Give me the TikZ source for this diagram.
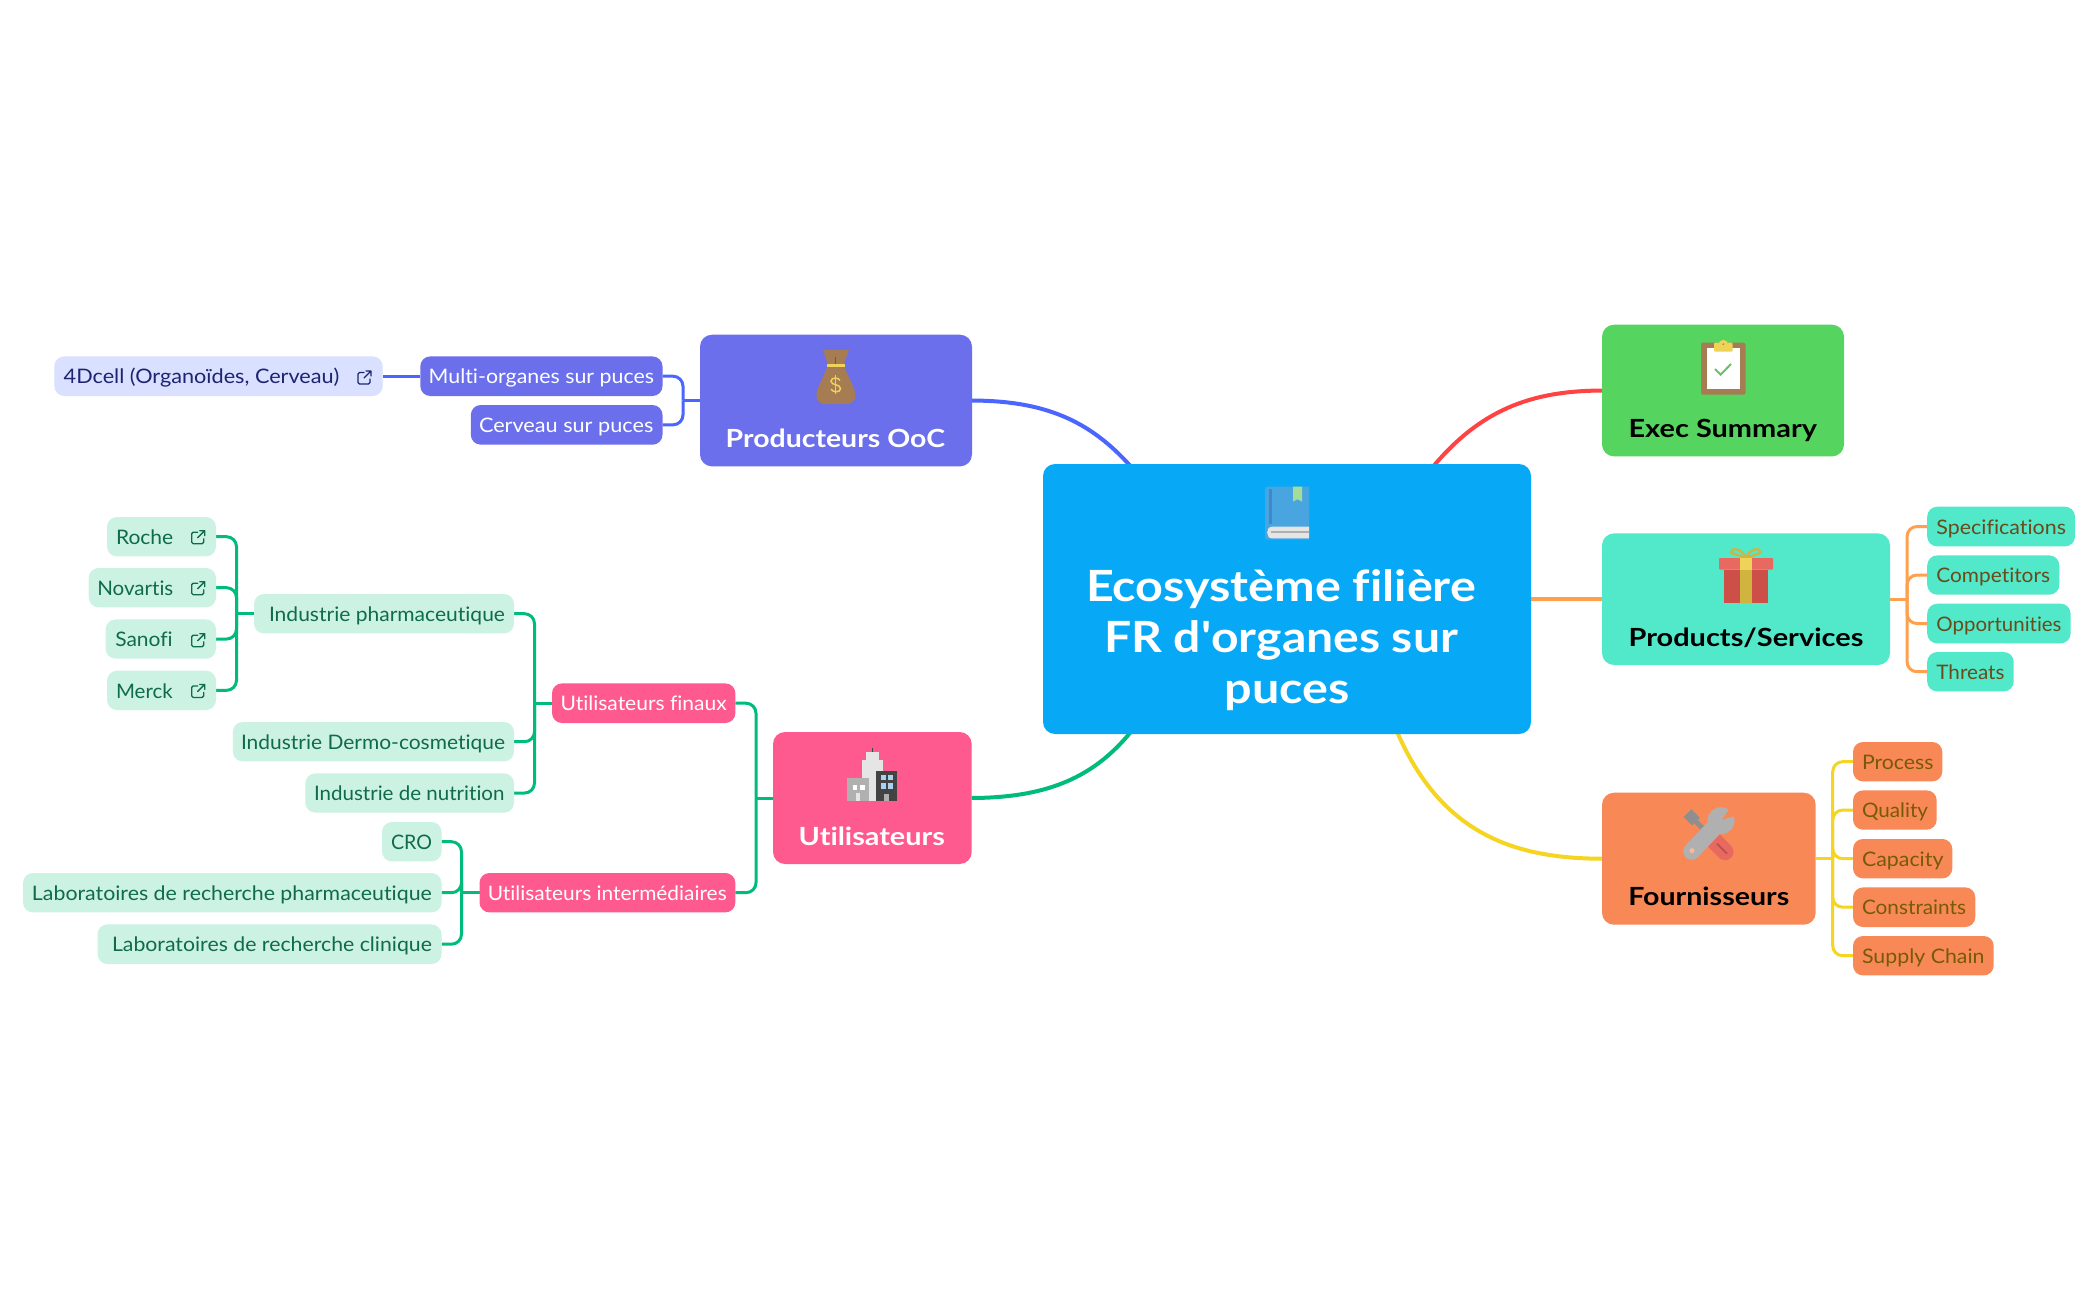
\documentclass[tikz,border=0pt]{standalone}
\usepackage{fontspec}
\usepackage{graphicx}
\setmainfont{Lato}[Ligatures={TeX,NoCommon}]
\newfontfamily\plainquote{Lato}
\usetikzlibrary{calc,backgrounds}
\definecolor{cCentral}{HTML}{07A9F6}
\definecolor{cExec}{HTML}{55D45F}
\definecolor{cProd}{HTML}{52E8CA}
\definecolor{cFour}{HTML}{F98857}
\definecolor{cOoc}{HTML}{6B6FEB}
\definecolor{cUtil}{HTML}{FF5A8F}
\definecolor{cPale}{HTML}{CCF2E4}
\definecolor{cPaleB}{HTML}{DAE0FF}
\definecolor{tGreen}{HTML}{0F6B4C}
\definecolor{tBrown}{HTML}{6B4A1A}
\definecolor{tOlive}{HTML}{755B05}
\definecolor{tNavy}{HTML}{1E2470}
\definecolor{lRed}{HTML}{FF4242}
\definecolor{lBlue}{HTML}{4A66FF}
\definecolor{lGreen}{HTML}{00BC7B}
\definecolor{lYellow}{HTML}{F5D422}
\definecolor{lOrange}{HTML}{FFA04F}
\definecolor{iRed}{HTML}{E8695F}
\definecolor{iRedD}{HTML}{CC5047}
\definecolor{iRedL}{HTML}{B85050}
\definecolor{iYel}{HTML}{EFD358}
\definecolor{iYelD}{HTML}{D0B43F}
\definecolor{iBrown}{HTML}{A67C52}
\definecolor{iBrownD}{HTML}{7A5533}
\definecolor{iGray}{HTML}{B0B0B0}
\definecolor{iGrayD}{HTML}{8F8F8F}
\definecolor{iGrayL}{HTML}{E5E5E5}
\definecolor{iDark}{HTML}{434343}
\definecolor{iWin}{HTML}{ABD0F0}
\definecolor{iBook}{HTML}{48A5DF}
\definecolor{iBookD}{HTML}{4088C8}
\definecolor{iMark}{HTML}{A4DD9A}
\definecolor{iChk}{HTML}{6BBF6B}
\tikzset{
  boxbase/.style={rectangle,rounded corners=10pt,inner sep=0pt,outer sep=0pt,text depth=0pt},
  kidnode/.style={boxbase,text height=15.5pt,font=\fontsize{20}{24}\selectfont},
  bigtopic/.style={boxbase,rounded corners=12pt,text height=94pt,font=\bfseries\fontsize{25}{30}\selectfont},
  mainline/.style={line width=4pt},
  kid/.style={line width=3pt},
  linkic/.style={line width=1.3pt,line cap=round,line join=round}
}
\newcommand\leafbox[9]{%
  \pgfmathsetmacro\cxx{(#3+#5)/2}\pgfmathsetmacro\cyy{(#4+#6)/2}%
  \pgfmathsetmacro\wwd{#5-#3}\pgfmathsetmacro\hhd{#6-#4}%
  \pgfmathsetmacro\lpd{#7-#3}\pgfmathsetmacro\twd{#8-#7}%
  \node[#1,minimum width=\wwd pt,minimum height=\hhd pt] (#2) at (\cxx,\cyy)
    {\makebox[\wwd pt][l]{\hspace*{\lpd pt}\resizebox{\twd pt}{\height}{#9}}};%
}
\newcommand\branch[4]{%
  \coordinate (j) at ($(#2)+(#3,0)$);
  \draw[kid,draw=#1] (#2) -- (j);
  \foreach \cc in {#4} { \draw[kid,draw=#1,rounded corners=10pt] (j) |- (\cc); }
}
\newcommand\linkicon[3]{%
  \begin{scope}[shift={(#1,#2)}]
    \draw[linkic,#3,rounded corners=1.5pt] (7,2.5) -- (1,2.5) -- (1,14) -- (13,14) -- (13,9);
    \draw[linkic,#3] (7,8) -- (14,1) (9,1) -- (14,1) -- (14,6);
  \end{scope}%
}
\begin{document}
\begin{tikzpicture}[x=1pt,y=-1pt]
\useasboundingbox (0,0) rectangle (2098,1300);
\begin{scope}[yshift=-0.7pt]

% central
\node[boxbase,fill=cCentral,rounded corners=12pt,minimum width=488pt,minimum height=270pt] (central) at (1287,598.3) {};
\node[anchor=base,align=center,text=white,inner sep=0pt,font=\bfseries\fontsize{43}{51.3}\selectfont] (ctext) at (1287,703.2)
 {\makebox[402pt][l]{\resizebox{390pt}{\height}{Ecosystème filière}}\\\makebox[366pt][l]{\resizebox{354pt}{\height}{FR d{\plainquote\bfseries '}organes sur}}\\\resizebox{125pt}{\height}{puces}};

% level 1
\leafbox{bigtopic,fill=cExec,text=black}{exec}{1602}{324}{1844}{455.7}{1628.6}{1817}{Exec Summary}
\leafbox{bigtopic,fill=cProd,text=black}{prod}{1602}{532.7}{1890}{664.3}{1628.6}{1863.4}{Products/Services}
\leafbox{bigtopic,fill=cFour,text=black}{four}{1602}{792}{1815.7}{924}{1628.3}{1789.3}{Fournisseurs}
\leafbox{bigtopic,fill=cOoc,text=white}{ooc}{700}{334}{972}{465.7}{725.7}{945}{Producteurs OoC}
\leafbox{bigtopic,fill=cUtil,text=white}{util}{773}{731.3}{971.7}{863.3}{798.7}{944.8}{Utilisateurs}

% products leaves
\leafbox{kidnode,fill=cProd,text=tBrown}{spec}{1927.2}{506}{2075}{545.7}{1936.4}{2066}{Specifications}
\leafbox{kidnode,fill=cProd,text=tBrown}{comp}{1927.2}{554.7}{2059.3}{594}{1936.4}{2050}{Competitors}
\leafbox{kidnode,fill=cProd,text=tBrown}{oppo}{1927.2}{603}{2070.6}{642.7}{1936.4}{2061.5}{Opportunities}
\leafbox{kidnode,fill=cProd,text=tBrown}{thre}{1927.2}{651.3}{2013.7}{690.7}{1936.4}{2004.5}{Threats}

% fournisseurs leaves
\leafbox{kidnode,fill=cFour,text=tOlive}{proc}{1853}{741.3}{1942.3}{780.7}{1862}{1933.5}{Process}
\leafbox{kidnode,fill=cFour,text=tOlive}{qual}{1853}{789.7}{1936.7}{829}{1862}{1928}{Quality}
\leafbox{kidnode,fill=cFour,text=tOlive}{capa}{1853}{838.3}{1952.3}{877.7}{1862}{1943.5}{Capacity}
\leafbox{kidnode,fill=cFour,text=tOlive}{cons}{1853}{886.7}{1975.3}{926.3}{1862}{1966}{Constraints}
\leafbox{kidnode,fill=cFour,text=tOlive}{supp}{1853}{935.3}{1993.7}{974.7}{1862}{1984.5}{Supply Chain}

% producteurs
\leafbox{kidnode,fill=cOoc,text=white}{multi}{420.3}{355.7}{662.5}{395.3}{428.7}{654}{Multi-organes sur puces}
\leafbox{kidnode,fill=cOoc,text=white}{cerv}{470.8}{404.3}{662.5}{444}{479}{653.3}{Cerveau sur puces}
\leafbox{kidnode,fill=cPaleB,text=tNavy}{dcell}{54.3}{355.7}{382.7}{395.3}{63.7}{339.3}{4Dcell (Organoïdes, Cerveau)}

% utilisateurs
\leafbox{kidnode,fill=cUtil,text=white}{finaux}{552}{682.7}{735.4}{722.3}{560.6}{726.7}{Utilisateurs finaux}
\leafbox{kidnode,fill=cUtil,text=white}{inter}{479.5}{872.3}{735.4}{911.7}{487.8}{726.7}{Utilisateurs intermédiaires}
\leafbox{kidnode,fill=cPale,text=tGreen}{pharma}{254}{593.3}{514}{632.7}{269}{505}{Industrie pharmaceutique}
\leafbox{kidnode,fill=cPale,text=tGreen}{dermo}{232.8}{721.3}{514}{760.7}{241}{505}{Industrie Dermo-cosmetique}
\leafbox{kidnode,fill=cPale,text=tGreen}{nutri}{305.4}{772.7}{514}{812}{314}{504.5}{Industrie de nutrition}
\leafbox{kidnode,fill=cPale,text=tGreen}{cro}{382}{821.3}{441.5}{860.7}{391}{432}{CRO}
\leafbox{kidnode,fill=cPale,text=tGreen}{labop}{23}{872.3}{441.5}{911.7}{32}{431.8}{Laboratoires de recherche pharmaceutique}
\leafbox{kidnode,fill=cPale,text=tGreen}{laboc}{97.5}{923.7}{441.5}{963.3}{112}{432}{Laboratoires de recherche clinique}
\leafbox{kidnode,fill=cPale,text=tGreen}{roche}{107}{516.3}{216}{555.7}{116}{173.3}{Roche}
\leafbox{kidnode,fill=cPale,text=tGreen}{nova}{88.7}{567.3}{216}{606.7}{97.3}{173.3}{Novartis}
\leafbox{kidnode,fill=cPale,text=tGreen}{sano}{105.7}{618.7}{216}{658}{115.3}{172.7}{Sanofi}
\leafbox{kidnode,fill=cPale,text=tGreen}{merck}{107}{670}{216}{709.3}{116}{172.7}{Merck}

% free ends of the main curves, just inside the central box
\coordinate (cNW) at (1131,466);
\coordinate (cNE) at (1433,466);
\coordinate (cSW) at (1131,731);
\coordinate (cSE) at (1397,731);

\begin{scope}[on background layer]
  \fill[white] (0,0.7) rectangle (2098,1300.7);
  \draw[mainline,lBlue] (ooc.east) .. controls (1045,400) and (1090,420) .. (cNW);
  \draw[mainline,lRed] (cNE) .. controls (1480,410) and (1530,390) .. (exec.west);
  \draw[mainline,lOrange] (central.east) -- (prod.west);
  \draw[mainline,lYellow] (cSE) .. controls (1440,830) and (1510,858) .. (four.west);
  \draw[mainline,lGreen] (util.east) .. controls (1050,797) and (1095,775) .. (cSW);
  \branch{lOrange}{prod.east}{17}{spec.west,comp.west,oppo.west,thre.west}
  \branch{lYellow}{four.east}{17}{proc.west,qual.west,capa.west,cons.west,supp.west}
  \branch{lBlue}{ooc.west}{-17}{multi.east,cerv.east}
  \draw[kid,lBlue] (multi.west) -- (dcell.east);
  \branch{lGreen}{util.west}{-17}{finaux.east,inter.east}
  \branch{lGreen}{finaux.west}{-17.5}{pharma.east,dermo.east,nutri.east}
  \branch{lGreen}{inter.west}{-18}{cro.east,labop.east,laboc.east}
  \branch{lGreen}{pharma.west}{-17.5}{roche.east,nova.east,sano.east,merck.east}
\end{scope}

% link icons
\linkicon{357}{369.3}{tNavy}
\linkicon{190.7}{529}{tGreen}
\linkicon{190.7}{580}{tGreen}
\linkicon{190.7}{632}{tGreen}
\linkicon{190.7}{682.7}{tGreen}

% book icon
\path[fill=iBook] (1309,486) -- (1268,486) .. controls (1266,486) and (1265,487) .. (1265,489) -- (1265,536) .. controls (1265,538) and (1266,539) .. (1268,539) -- (1309,539) -- cycle;
\fill[iBookD] (1269,488.7) rectangle (1272,523);
\fill[iMark] (1293,486) -- (1302,486) -- (1302,501) -- (1297.5,498.5) -- (1293,501) -- cycle;
\path[fill=iGrayL] (1309,526) -- (1272,526) .. controls (1265.5,526) and (1265.5,537.7) .. (1272,537.7) -- (1309,537.7) -- cycle;
\fill[iGray] (1271,530.7) rectangle (1309,532.7);

% clipboard icon
\fill[iBrown,rounded corners=1.5pt] (1701,342) rectangle (1745.6,394);
\fill[white] (1706.5,347.7) rectangle (1740,388);
\fill[iYel,rounded corners=1pt] (1714,342) rectangle (1732.6,351);
\fill[iYel] (1723.3,344) circle (4.8pt);
\fill[iBrown] (1723.3,343.5) circle (0.9pt);
\draw[line width=2pt,iChk] (1715,368.3) -- (1720.6,374) -- (1731,363.3);

% gift icon
\draw[line width=2.2pt,iYelD] (1745,557) .. controls (1736,553) and (1730,553) .. (1730.8,551.5) .. controls (1732,546) and (1742,548) .. (1746,557) .. controls (1750,548) and (1760,546) .. (1760.5,551.5) .. controls (1761,553) and (1754,554) .. (1747,557);
\fill[iRedD] (1723.7,569) rectangle (1768.3,602);
\fill[iYelD] (1740,569) rectangle (1752,602);
\fill[iRed,rounded corners=1pt] (1719,557.3) rectangle (1773,569);
\fill[iYel] (1740,557.3) rectangle (1752,569);

% tools icon
\draw[line width=17pt,line cap=round,iRed] (1711,837) -- (1725,851);
\draw[line width=1.8pt,iRedL] (1717,843) -- (1727,853);
\draw[line width=5pt,iGrayD] (1691,816) -- (1706,831);
\draw[line width=11pt,iGrayD] (1687.5,812.5) -- (1696,821);
\draw[line width=17pt,line cap=round,iGray] (1691.7,850.7) -- (1716,825);
\fill[iGray] (1721,820) circle (13.5pt);
\fill[cFour] (1722,819) -- (1731,806) -- (1739,814) -- cycle;
\fill[cFour!60!white] (1692,850) circle (2.5pt);

% money bag icon
\path[fill=iBrown] (823,349.3) -- (849,349.3) -- (843.5,364) .. controls (848,376) and (855.4,388) .. (855.4,394) .. controls (855.4,401) and (851,403.3) .. (847,403.3) -- (825,403.3) .. controls (821,403.3) and (816.4,401) .. (816.4,394) .. controls (816.4,388) and (824,376) .. (828,364) -- cycle;
\fill[iBrownD] (835,356) rectangle (836.4,363);
\fill[iYel] (826.7,363) rectangle (845,366);
\draw[line width=1.5pt,iYel] (840,379.5) .. controls (838,376.5) and (831,376.5) .. (831,380.5) .. controls (831,385) and (840.5,383) .. (840.5,388) .. controls (840.5,392) and (833,392) .. (831,388.5);
\draw[line width=1.3pt,iYel] (835.7,374.5) -- (835.7,393.5);

% buildings icon
\fill[iDark] (871.8,747.3) rectangle (873,752);
\fill[iGrayL] (866.3,751.7) rectangle (878.5,760);
\fill[iGrayL] (862,759) rectangle (883,800.7);
\fill[iGray] (847.3,777.3) rectangle (869,800.7);
\fill[iDark] (876.3,770.3) rectangle (897,800.7);
\fill[white] (852.5,784) rectangle (857,789.5);
\fill[white] (860,784) rectangle (864.5,789.5);
\fill[iGrayL] (855.5,792) rectangle (860,800.7);
\fill[iWin] (880.5,774) rectangle (885.5,779.5);
\fill[iWin] (888,774) rectangle (893,779.5);
\fill[iWin] (880.5,782.5) rectangle (885.5,788);
\fill[iWin] (888,782.5) rectangle (893,788);
\fill[iGray] (884,793) rectangle (889,800.7);
\end{scope}
\end{tikzpicture}
\end{document}
